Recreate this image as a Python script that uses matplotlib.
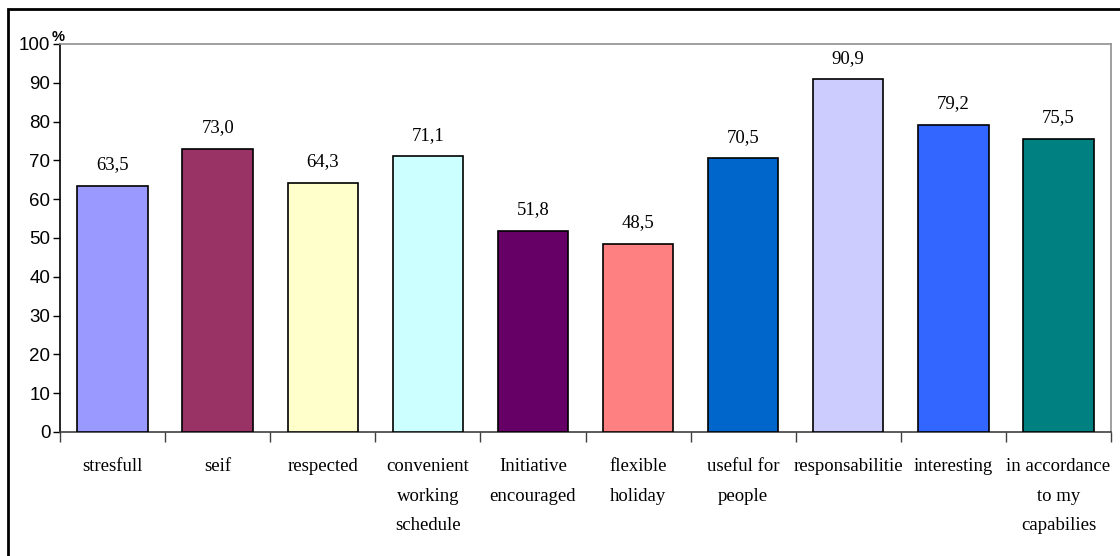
import numpy as np
import matplotlib.pyplot as plt
from matplotlib.patches import Rectangle

# data
categories = ["stresfull", "seif", "respected", "convenient\nworking\nschedule",
              "Initiative\nencouraged", "flexible\nholiday", "useful for\npeople",
              "responsabilitie", "interesting", "in accordance\nto my\ncapabilies"]
values = [63.5, 73.0, 64.3, 71.1, 51.8, 48.5, 70.5, 90.9, 79.2, 75.5]
colors = ["#9999FF", "#993366", "#FFFFCC", "#CCFFFF", "#660066",
          "#FF8080", "#0066CC", "#CCCCFF", "#3366FF", "#008080"]
y_ticks = [0, 10, 20, 30, 40, 50, 60, 70, 80, 90, 100]

fig = plt.figure(figsize=(11.2, 5.56), dpi=100)
ax = fig.add_axes([60/1120, 124/556, 1051/1120, 388/556])

x = np.arange(len(values))
ax.bar(x, values, width=0.67, color=colors, edgecolor="black", linewidth=1.2, zorder=3)

for xi, v in zip(x, values):
    ax.annotate(f"{v:.1f}".replace(".", ","), (xi, v), xytext=(0, 9),
                textcoords="offset points", ha="center", va="bottom",
                fontsize=13.5, family="Liberation Serif")

ax.set_xlim(-0.5, len(values) - 0.5)
ax.set_ylim(0, 100)
ax.set_yticks(y_ticks)
ax.set_yticklabels([str(t) for t in y_ticks], family="Liberation Sans", fontsize=13.5)
ax.tick_params(axis="y", length=5, width=1, pad=2)

# labels at centres, tick marks at category boundaries
ax.set_xticks(x)
ax.set_xticklabels(categories, family="Liberation Serif", fontsize=13.5,
                   linespacing=1.95, va="top")
ax.tick_params(axis="x", which="major", length=0, pad=19)
ax.set_xticks(np.arange(-0.5, len(values)), minor=True)
ax.tick_params(axis="x", which="minor", length=7, width=1, color="#404040")

ax.spines["left"].set_color("black")
ax.spines["bottom"].set_color("#404040")
ax.spines["top"].set_color("#909090")
ax.spines["right"].set_color("#909090")
for s in ax.spines.values():
    s.set_linewidth(1.2)

ax.text(-0.008, 1.0, "%", transform=ax.transAxes, fontsize=10.5, fontweight="bold",
        family="Liberation Sans", ha="left", va="bottom")

# outer frame
fig.patches.append(Rectangle((7.5/1120, -0.05), 1.1, (556 - 9.5)/556 + 0.05,
                             transform=fig.transFigure, fill=False,
                             edgecolor="black", linewidth=2))

plt.savefig("out.png", dpi=100)
